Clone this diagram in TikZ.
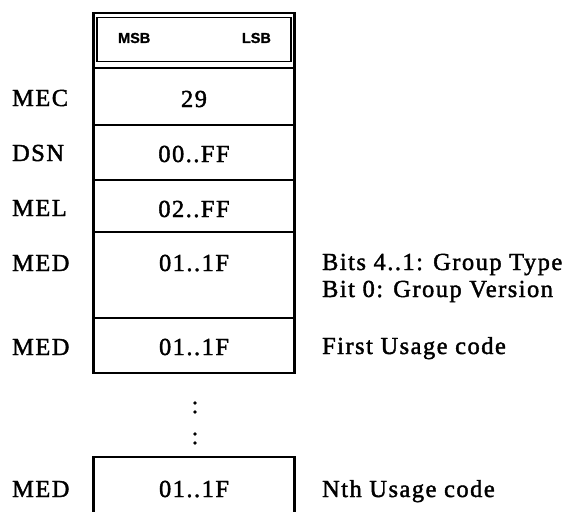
\documentclass[tikz,border=0pt]{standalone}
\usepackage{fontspec}
\setmainfont{Liberation Serif}[LetterSpace=6,FakeBold=1.6]
\newfontfamily\hdrfont{Liberation Sans}[FakeBold=1]
\begin{document}
\begin{tikzpicture}[x=1pt,y=-1pt,line width=2.2pt,
  cell/.style={draw,rectangle,minimum width=201pt,inner sep=0pt},
  txt/.style={font=\fontsize{24.5}{28}\selectfont,inner sep=0pt},
  lbl/.style={txt,anchor=base west},
  val/.style={txt,anchor=base},
  note/.style={txt,anchor=base west},
  hdr/.style={font=\hdrfont\bfseries\fontsize{14.5}{16}\selectfont,inner sep=0pt},
  dot/.style={circle,fill,inner sep=0pt,minimum size=3.6pt}]
\useasboundingbox (0,0) rectangle (567,511);
% header
\node[cell,minimum height=55pt] (head) at (194,40.5) {};
\node[draw,rectangle,line width=1.6pt,minimum width=194pt,minimum height=44pt,inner sep=0pt] (headin) at (194,39.5) {};
\node[hdr,anchor=base west] (msb) at (117,43) {MSB};
\node[hdr,anchor=base east] (lsb) at (272,43) {LSB};
% rows
\node[cell,minimum height=57pt] (mec) at (194,96.5) {};
\node[cell,minimum height=55pt] (dsn) at (194,152.5) {};
\node[cell,minimum height=52pt] (mel) at (194,206) {};
\node[cell,minimum height=86pt] (medA) at (194,275) {};
\node[cell,minimum height=55pt] (medB) at (194,345.5) {};
% last open box
\coordinate (lastBL) at (93.5,512);
\coordinate (lastTL) at (93.5,457);
\coordinate (lastTR) at (294.5,457);
\coordinate (lastBR) at (294.5,512);
\draw (lastBL) -- (lastTL) -- (lastTR) -- (lastBR);
% values
\node[val] (v1) at (194,107) {29};
\node[val] (v2) at (194,162) {00..FF};
\node[val] (v3) at (194,217) {02..FF};
\node[val] (v4) at (194,271) {01..1F};
\node[val] (v5) at (194,355) {01..1F};
\node[val] (v6) at (194,497) {01..1F};
% labels
\node[lbl] (l1) at (11,106) {MEC};
\node[lbl] (l2) at (11,161) {DSN};
\node[lbl] (l3) at (11,216) {MEL};
\node[lbl] (l4) at (11,271) {MED};
\node[lbl] (l5) at (11,355) {MED};
\node[lbl] (l6) at (11,497) {MED};
% notes
\node[note] (n1) at (321,270) {Bits 4..1: Group Type};
\node[note] (n2) at (321,297) {Bit 0: Group Version};
\node[note] (n3) at (321,354) {First Usage code};
\node[note] (n4) at (321,497) {Nth Usage code};
% ellipsis dots
\node[dot] (d1) at (195,403) {};
\node[dot] (d2) at (195,412) {};
\node[dot] (d3) at (195,434) {};
\node[dot] (d4) at (195,443) {};
\end{tikzpicture}
\end{document}
